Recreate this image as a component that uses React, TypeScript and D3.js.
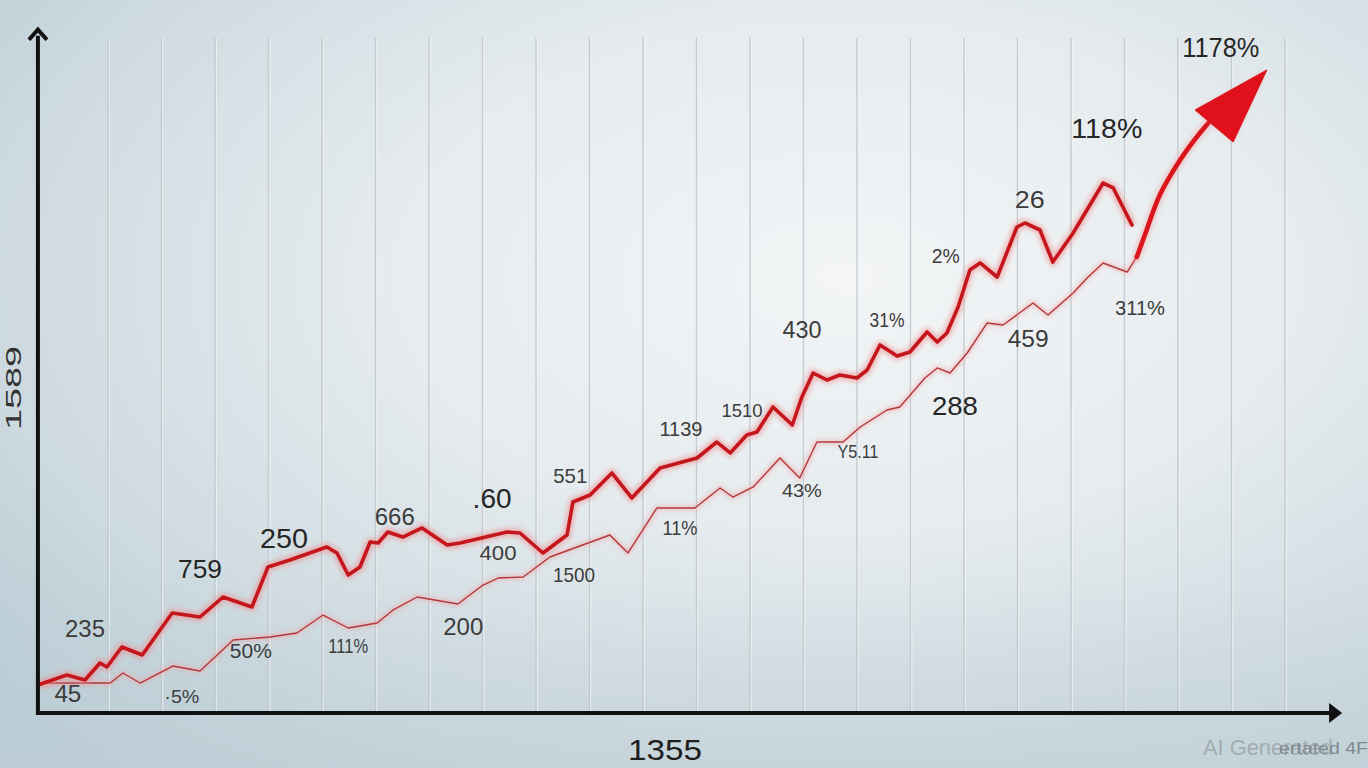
import React, { useEffect } from "react";
import * as d3 from "d3";

const W = 1368;
const H = 768;

// grid columns (x positions in data units)
const gridTicks = [1, 2, 3, 4, 5, 6, 7, 8, 9, 10, 11, 12, 13, 14, 15, 16, 17, 18, 19, 20, 21, 22, 23];

// thick red series
const mainX = [-0.31, 0.23, 0.57, 0.85, 0.98, 1.26, 1.64, 2.2, 2.72, 3.15, 3.69, 3.99, 4.4, 5.09, 5.28, 5.49, 5.71, 5.9, 6.05, 6.23, 6.51, 6.87, 7.34, 7.58, 8.46, 8.7, 9.13, 9.58, 9.69, 10.01, 10.42, 10.79, 11.32, 12.01, 12.38, 12.63, 12.94, 13.13, 13.43, 13.79, 13.97, 14.18, 14.44, 14.68, 15.0, 15.19, 15.43, 15.75, 15.99, 16.31, 16.5, 16.68, 16.89, 17.11, 17.3, 17.62, 17.99, 18.14, 18.42, 18.66, 19.04, 19.6, 19.79, 20.14];
const mainY = [4.12, 5.59, 4.85, 7.35, 6.76, 9.71, 8.53, 14.71, 14.12, 17.06, 15.59, 21.47, 22.5, 24.41, 23.53, 20.29, 21.47, 25.15, 25.0, 26.62, 25.88, 27.21, 24.71, 25.0, 26.62, 26.47, 23.53, 26.18, 31.03, 32.06, 35.29, 31.62, 36.03, 37.5, 39.85, 38.24, 40.88, 41.32, 45.0, 42.35, 46.47, 50.0, 48.97, 49.71, 49.26, 50.44, 54.12, 52.5, 53.09, 56.03, 54.56, 55.88, 59.71, 65.15, 66.18, 64.12, 71.47, 72.06, 71.03, 66.32, 70.59, 77.94, 77.21, 71.76];

// thin red series
const baseX = [-0.31, 1.04, 1.28, 1.6, 2.21, 2.72, 3.34, 4.03, 4.53, 5.02, 5.49, 6.03, 6.33, 6.78, 7.54, 8.01, 8.29, 8.76, 9.26, 10.38, 10.72, 11.26, 11.97, 12.44, 12.68, 13.06, 13.56, 13.93, 14.25, 14.74, 15.06, 15.56, 15.8, 16.27, 16.5, 16.74, 17.06, 17.43, 17.73, 18.29, 18.57, 19.04, 19.3, 19.6, 20.05, 20.23];
const baseY = [4.41, 4.41, 5.88, 4.41, 6.91, 6.18, 10.74, 11.18, 11.76, 14.41, 12.5, 13.24, 15.15, 17.06, 16.03, 18.82, 19.85, 20.0, 22.94, 26.18, 23.53, 30.15, 30.15, 33.09, 31.76, 33.24, 37.5, 34.56, 39.85, 39.85, 42.06, 44.56, 45.0, 49.26, 50.74, 50.0, 52.94, 57.35, 57.06, 60.29, 58.53, 61.76, 63.97, 66.18, 64.85, 67.06];

// trend arrow
const arrowShaftX = [20.23, 20.38, 20.66, 21.04, 21.41, 21.82];
const arrowShaftY = [67.06, 70.29, 76.18, 81.32, 85.29, 88.97];
const arrowHeadX = [21.32, 22.66, 22.03];
const arrowHeadY = [88.68, 94.56, 83.97];

// annotations
const labelText = ["1178%", "118%", "26", "2%", "311%", "459", "288", "430", "31%", "1510", "1139", "551", ".60", "400", "1500", "200", "11%", "43%", "Y5.11", "666", "250", "759", "235", "50%", "111%", "45", "·5%"];
const labelX = [21.8, 19.67, 18.23, 16.66, 20.29, 18.2, 16.83, 13.97, 15.56, 12.85, 11.71, 9.64, 8.18, 8.29, 9.71, 7.64, 11.69, 13.97, 15.02, 6.36, 4.29, 2.72, 0.57, 3.67, 5.49, 0.25, 2.38];
const labelY = [96.47, 84.56, 74.26, 66.18, 58.53, 53.82, 43.82, 55.15, 56.76, 43.53, 40.74, 33.82, 30.15, 22.5, 19.26, 11.47, 26.18, 31.76, 37.5, 27.65, 24.26, 19.85, 11.18, 8.09, 8.82, 1.62, 1.47];

const xTitle = "1355";
const yTitle = "1589";

// styles for annotations (kept apart from data)
const labelFontSize = [27, 27, 23, 20, 21, 23, 26, 24, 20, 19, 20, 21, 27, 21, 21, 24, 20, 19, 19, 23, 28, 26, 23, 20, 20, 23, 19];
const labelFit = [77, 71, 30, 28, 50, 41, 46, 39, 35, 41, 43, 34, 39, 37, 42, 40, 35, 40, 41, 40, 48, 44, 40, 42, 40, 27, 35];

const FONT = "'Liberation Sans', Arial, Helvetica, sans-serif";

export default function App() {
  useEffect(() => {
    document.body.style.margin = "0";
    document.body.style.overflow = "hidden";
  }, []);

  const x = d3.scaleLinear().domain([0, 24]).range([54.5, 1338.5]);
  const y = d3.scaleLinear().domain([0, 100]).range([713, 33]);

  const mainData = mainX.map((v, i) => [v, mainY[i]] as [number, number]);
  const baseData = baseX.map((v, i) => [v, baseY[i]] as [number, number]);
  const shaftData = arrowShaftX.map((v, i) => [v, arrowShaftY[i]] as [number, number]);

  const line = d3
    .line<[number, number]>()
    .x((d) => x(d[0]))
    .y((d) => y(d[1]));
  const smooth = d3
    .line<[number, number]>()
    .x((d) => x(d[0]))
    .y((d) => y(d[1]))
    .curve(d3.curveCatmullRom.alpha(0.5));

  const headPts = arrowHeadX.map((v, i) => `${x(v)},${y(arrowHeadY[i])}`).join(" ");

  const axisY = y(0);
  const axisX = x(-0.31);
  const gridTop = y(99.3);
  const xEnd = x(23.9);

  return (
    <svg
      width={W}
      height={H}
      viewBox={`0 0 ${W} ${H}`}
      style={{ position: "absolute", left: 0, top: 0, display: "block" }}
    >
      <defs>
        <radialGradient id="bg" cx="0.62" cy="0.36" r="0.85">
          <stop offset="0" stopColor="#f3f5f6" />
          <stop offset="0.4" stopColor="#e5ebee" />
          <stop offset="0.75" stopColor="#ccd9df" />
          <stop offset="1" stopColor="#b2c7d1" />
        </radialGradient>
        <linearGradient id="bgBottom" x1="0" y1="0" x2="0" y2="1">
          <stop offset="0.75" stopColor="#c8d6dc" stopOpacity="0" />
          <stop offset="1" stopColor="#c3d1d8" stopOpacity="0.6" />
        </linearGradient>
        <filter id="glow" x="-5%" y="-5%" width="110%" height="110%">
          <feGaussianBlur stdDeviation="2.2" />
        </filter>
        <filter id="soft" x="-5%" y="-5%" width="110%" height="110%">
          <feGaussianBlur stdDeviation="0.4" />
        </filter>
      </defs>

      <rect x={0} y={0} width={W} height={H} fill="url(#bg)" />
      <rect x={0} y={0} width={W} height={H} fill="url(#bgBottom)" />

      {/* grid */}
      <g>
        {gridTicks.map((t) => (
          <g key={t}>
            <line x1={x(t) + 1.2} x2={x(t) + 1.2} y1={gridTop} y2={axisY} stroke="#f4f6f7" strokeWidth={1.2} opacity={0.8} />
            <line x1={x(t)} x2={x(t)} y1={gridTop} y2={axisY} stroke="#bcc6cc" strokeWidth={1.4} opacity={0.85} />
          </g>
        ))}
      </g>

      {/* thin series */}
      <path d={line(baseData) || ""} fill="none" stroke="#f3a3a3" strokeWidth={5} opacity={0.5} filter="url(#glow)" strokeLinejoin="round" />
      <path d={line(baseData) || ""} fill="none" stroke="#b4383b" strokeWidth={1.4} strokeLinejoin="round" />

      {/* thick series */}
      <path d={line(mainData) || ""} fill="none" stroke="#ef8e8e" strokeWidth={9} opacity={0.55} filter="url(#glow)" strokeLinejoin="round" />
      <path d={line(mainData) || ""} fill="none" stroke="#c4181e" strokeWidth={3.6} strokeLinejoin="round" strokeLinecap="round" filter="url(#soft)" />

      {/* arrow */}
      <path d={smooth(shaftData) || ""} fill="none" stroke="#f29a9a" strokeWidth={9} opacity={0.45} filter="url(#glow)" strokeLinecap="round" />
      <path d={smooth(shaftData) || ""} fill="none" stroke="#d9141a" strokeWidth={4.6} strokeLinecap="round" />
      <polygon points={headPts} fill="#f29a9a" opacity={0.45} filter="url(#glow)" />
      <polygon points={headPts} fill="#e0111a" stroke="#d9141a" strokeWidth={1} strokeLinejoin="round" />

      {/* axes */}
      <line x1={axisX} x2={axisX} y1={axisY + 2} y2={y(99.6)} stroke="#111" strokeWidth={4} />
      <path
        d={`M${axisX - 9},${y(99.0)} L${axisX},${y(100.5)} L${axisX + 9},${y(99.0)}`}
        fill="none"
        stroke="#111"
        strokeWidth={4}
        strokeLinejoin="miter"
      />
      <line x1={axisX - 2} x2={xEnd} y1={axisY} y2={axisY} stroke="#111" strokeWidth={4.2} />
      <polygon
        points={`${xEnd - 4},${axisY - 10} ${xEnd + 9},${axisY} ${xEnd - 4},${axisY + 10}`}
        fill="#111"
      />

      {/* annotations */}
      <g fontFamily={FONT}>
        {labelText.map((t, i) => (
          <text
            key={i}
            x={x(labelX[i])}
            y={y(labelY[i])}
            textAnchor="middle"
            fontSize={labelFontSize[i]}
            fill={labelFontSize[i] >= 26 ? "#262626" : "#3c3c3c"}
            textLength={labelFit[i]}
            lengthAdjust="spacingAndGlyphs"
          >
            {t}
          </text>
        ))}
        <text x={x(11.41)} y={760} textAnchor="middle" fontSize={30} fill="#1e1e1e" textLength={74} lengthAdjust="spacingAndGlyphs">
          {xTitle}
        </text>
        <text
          transform={`translate(21, ${388}) rotate(-90)`}
          textAnchor="middle"
          fontSize={22}
          fill="#333"
          textLength={84}
          lengthAdjust="spacingAndGlyphs"
        >
          {yTitle}
        </text>
        <text x={1203} y={755} fontSize={22} fill="#a3acb2" textLength={130} lengthAdjust="spacingAndGlyphs">
          AI Generated
        </text>
        <text x={1279} y={754} fontSize={17} fill="#7f898f" textLength={89} lengthAdjust="spacingAndGlyphs">
          ertated 4F
        </text>
      </g>
    </svg>
  );
}
